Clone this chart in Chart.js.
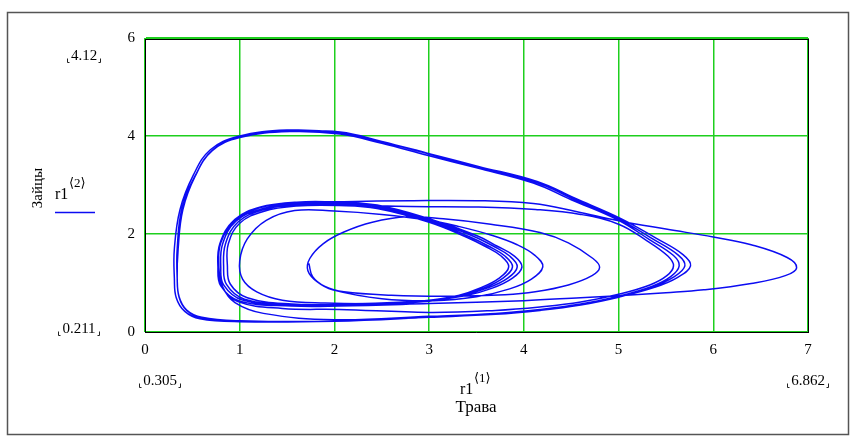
<!DOCTYPE html>
<html>
<head>
<meta charset="utf-8">
<script src="https://cdn.jsdelivr.net/npm/chart.js@4.4.1/dist/chart.umd.min.js"></script>
<style>
html,body{margin:0;padding:0;background:#fff;}
#wrap{position:relative;width:854px;height:437px;}
canvas{display:block;}
</style>
</head>
<body>
<div id="wrap"><canvas id="c" width="854" height="437"></canvas></div>
<script>
// ---- tick values ----
const xTicks = [0, 1, 2, 3, 4, 5, 6, 7];
const yTicks = [0, 2, 4, 6];

// ---- trajectory r1<1> (Трава) vs r1<2> (Зайцы), read loop by loop ----
const loopD_x = [1.73, 1.77, 1.90, 2.10, 2.60, 3.20, 3.80, 4.12, 4.47, 4.72, 4.80, 4.73, 4.47, 4.17, 3.65, 3.15, 2.77, 2.40, 2.10, 1.88, 1.74, 1.72, 1.82, 1.98];
const loopD_y = [1.40, 1.13, 0.93, 0.82, 0.75, 0.73, 0.76, 0.82, 0.96, 1.15, 1.32, 1.50, 1.82, 2.03, 2.20, 2.31, 2.35, 2.24, 2.04, 1.80, 1.50, 1.25, 1.02, 0.86];

const loopC_x = [2.50, 3.05, 3.50, 3.85, 4.08, 4.20, 4.12, 3.93, 3.65, 3.30, 3.00, 2.50, 2.00, 1.58, 1.28, 1.08, 1.00, 1.03, 1.18, 1.45, 1.90];
const loopC_y = [0.68, 0.64, 0.72, 0.88, 1.08, 1.33, 1.56, 1.78, 1.98, 2.16, 2.28, 2.40, 2.47, 2.48, 2.28, 1.90, 1.45, 1.08, 0.82, 0.65, 0.59];

const loopB1_x = [2.50, 3.00, 3.30, 3.54, 3.74, 3.84, 3.76, 3.59, 3.39, 3.00, 2.45, 2.05, 1.60, 1.25, 1.00, 0.88, 0.87, 0.90, 1.08, 1.55, 2.05];
const loopB1_y = [0.58, 0.63, 0.74, 0.90, 1.10, 1.33, 1.55, 1.75, 1.94, 2.24, 2.52, 2.58, 2.57, 2.46, 2.22, 1.80, 1.35, 0.98, 0.70, 0.57, 0.57];

const loopB2_x = [2.95, 3.32, 3.58, 3.78, 3.88, 3.80, 3.63, 3.42, 3.00, 2.45, 2.05, 1.60, 1.24, 0.98, 0.85, 0.83, 0.86, 1.05, 1.55, 2.05];
const loopB2_y = [0.64, 0.75, 0.90, 1.10, 1.33, 1.55, 1.75, 1.95, 2.27, 2.55, 2.60, 2.60, 2.49, 2.24, 1.80, 1.34, 0.97, 0.67, 0.56, 0.56];

const loopB3_x = [2.95, 3.35, 3.62, 3.83, 3.93, 3.85, 3.68, 3.46, 3.00, 2.45, 2.05, 1.60, 1.23, 0.96, 0.82, 0.80, 0.83, 1.03, 1.55, 2.05];
const loopB3_y = [0.64, 0.75, 0.90, 1.10, 1.33, 1.55, 1.75, 1.96, 2.29, 2.57, 2.62, 2.62, 2.51, 2.26, 1.80, 1.33, 0.96, 0.65, 0.55, 0.55];

const loopB4_x = [2.95, 3.38, 3.66, 3.88, 3.98, 3.90, 3.72, 3.50, 3.00, 2.45, 2.05, 1.60, 1.22, 0.94, 0.79, 0.77, 0.80, 1.00, 1.55, 2.05];
const loopB4_y = [0.63, 0.74, 0.89, 1.10, 1.33, 1.55, 1.75, 1.97, 2.31, 2.59, 2.65, 2.65, 2.54, 2.28, 1.80, 1.32, 0.94, 0.63, 0.53, 0.53];

const loopE_x = [3.00, 4.00, 4.60, 5.00, 5.50, 5.90, 6.40, 6.76, 6.88, 6.78, 6.40, 6.00, 5.50, 5.00, 4.55, 4.10, 3.50, 2.80, 2.10, 1.60, 1.22, 0.95, 0.80, 0.78, 0.81, 0.98, 1.45, 2.05];
const loopE_y = [0.58, 0.64, 0.70, 0.74, 0.80, 0.86, 0.99, 1.15, 1.31, 1.52, 1.78, 1.94, 2.10, 2.27, 2.46, 2.62, 2.68, 2.68, 2.66, 2.64, 2.55, 2.30, 1.85, 1.33, 0.93, 0.62, 0.48, 0.46];

const loopF_x = [3.00, 3.70, 4.17, 4.60, 5.00, 5.33, 5.51, 5.58, 5.52, 5.30, 5.00, 4.60, 4.12, 3.50, 2.80, 2.10, 1.60, 1.22, 0.95, 0.80, 0.78, 0.82, 0.95, 1.25];
const loopF_y = [0.40, 0.44, 0.51, 0.61, 0.77, 0.96, 1.15, 1.35, 1.55, 1.86, 2.20, 2.40, 2.50, 2.55, 2.56, 2.59, 2.59, 2.50, 2.27, 1.82, 1.32, 0.92, 0.60, 0.38];

const loopA1_x = [2.00, 3.00, 3.70, 4.17, 4.60, 5.00, 5.35, 5.55, 5.64, 5.58, 5.33, 4.99, 4.50, 4.10, 3.50, 2.99, 2.50, 2.06, 1.53, 1.00, 0.71, 0.53, 0.40, 0.35, 0.34, 0.36, 0.44, 0.60, 1.00];
const loopA1_y = [0.25, 0.32, 0.38, 0.46, 0.57, 0.73, 0.93, 1.13, 1.35, 1.56, 1.88, 2.29, 2.70, 3.04, 3.35, 3.60, 3.85, 4.04, 4.09, 3.97, 3.70, 3.18, 2.50, 1.70, 1.10, 0.72, 0.45, 0.30, 0.23];

const loopA2_x = [2.00, 3.00, 3.70, 4.17, 4.60, 5.00, 5.36, 5.58, 5.70, 5.63, 5.36, 5.00, 4.52, 4.12, 3.50, 3.00, 2.50, 2.06, 1.50, 0.98, 0.69, 0.51, 0.37, 0.31, 0.31, 0.33, 0.42, 0.58, 1.00];
const loopA2_y = [0.22, 0.30, 0.37, 0.45, 0.56, 0.72, 0.92, 1.12, 1.35, 1.57, 1.90, 2.31, 2.72, 3.06, 3.37, 3.63, 3.88, 4.07, 4.12, 3.99, 3.72, 3.20, 2.50, 1.70, 1.10, 0.70, 0.42, 0.27, 0.21];

const loopA3_x = [2.00, 3.00, 3.70, 4.17, 4.60, 5.00, 5.38, 5.62, 5.76, 5.68, 5.40, 5.02, 4.54, 4.14, 3.52, 3.00, 2.50, 2.06, 1.52, 1.00, 0.71, 0.53, 0.39, 0.34, 0.34, 0.36, 0.44, 0.60, 1.00, 2.00];
const loopA3_y = [0.22, 0.30, 0.36, 0.44, 0.55, 0.71, 0.91, 1.11, 1.35, 1.58, 1.91, 2.32, 2.73, 3.07, 3.38, 3.64, 3.89, 4.08, 4.10, 3.98, 3.71, 3.19, 2.52, 1.70, 1.10, 0.71, 0.44, 0.29, 0.22, 0.22];

const loops = [
  [loopD_x, loopD_y], [loopC_x, loopC_y],
  [loopB1_x, loopB1_y], [loopB2_x, loopB2_y], [loopB3_x, loopB3_y], [loopB4_x, loopB4_y],
  [loopE_x, loopE_y], [loopF_x, loopF_y],
  [loopA1_x, loopA1_y], [loopA2_x, loopA2_y], [loopA3_x, loopA3_y]
];
const trajectory = [];
loops.forEach(([xs, ys]) => xs.forEach((x, i) => trajectory.push({ x: x, y: ys[i] })));

const SERIF = '"Liberation Serif", "Times New Roman", "DejaVu Serif", serif';
const BLUE = '#0c0cf2';
const GREEN = '#1ecf1e';

function mcLabel(ctx, text, cx, cy) {
  ctx.font = '15px ' + SERIF;
  ctx.textAlign = 'center';
  ctx.textBaseline = 'middle';
  ctx.fillStyle = '#000';
  ctx.fillText(text, cx, cy);
  const w = ctx.measureText(text).width;
  const l = Math.round(cx - w / 2 - 4) + 0.5;
  const r = Math.round(cx + w / 2 + 3) + 0.5;
  const b = Math.round(cy + 6) + 0.5;
  ctx.strokeStyle = '#222';
  ctx.lineWidth = 1;
  ctx.beginPath();
  ctx.moveTo(l, b - 4); ctx.lineTo(l, b); ctx.lineTo(l + 2, b);
  ctx.moveTo(r, b - 4); ctx.lineTo(r, b); ctx.lineTo(r - 2, b);
  ctx.stroke();
}

const decor = {
  id: 'decor',
  afterDraw(chart) {
    const ctx = chart.ctx;
    const a = chart.chartArea;
    ctx.save();
    // plot frame (right and top), top grid line green above black
    ctx.strokeStyle = '#000';
    ctx.lineWidth = 1;
    ctx.beginPath();
    ctx.moveTo(a.right + 0.5, a.top); ctx.lineTo(a.right + 0.5, a.bottom + 1);
    ctx.moveTo(a.left, a.top + 1.5); ctx.lineTo(a.right + 1, a.top + 1.5);
    ctx.stroke();
    ctx.strokeStyle = GREEN;
    ctx.beginPath();
    ctx.moveTo(a.left, a.top + 0.5); ctx.lineTo(a.right + 1, a.top + 0.5);
    ctx.stroke();
    // outer frame
    ctx.strokeStyle = '#555';
    ctx.lineWidth = 1.5;
    ctx.strokeRect(7.5, 12.5, 841, 422);

    // Mathcad range labels
    mcLabel(ctx, '4.12', 84, 56);
    mcLabel(ctx, '0.211', 79, 329);
    mcLabel(ctx, '0.305', 160, 381);
    mcLabel(ctx, '6.862', 808, 381);

    ctx.fillStyle = '#000';
    ctx.textBaseline = 'alphabetic';
    ctx.textAlign = 'left';
    // x-axis expression
    ctx.font = '16px ' + SERIF;
    ctx.fillText('r1', 460, 394);
    ctx.font = '13px ' + SERIF;
    ctx.fillText('\u27E81\u27E9', 474, 382);
    ctx.font = '17px ' + SERIF;
    ctx.textAlign = 'center';
    ctx.textBaseline = 'middle';
    ctx.fillText('Трава', 476, 408);
    // y-axis expression
    ctx.textAlign = 'left';
    ctx.textBaseline = 'alphabetic';
    ctx.font = '16px ' + SERIF;
    ctx.fillText('r1', 55, 199);
    ctx.font = '13px ' + SERIF;
    ctx.fillText('\u27E82\u27E9', 69, 187);
    // legend line
    ctx.strokeStyle = BLUE;
    ctx.lineWidth = 1.5;
    ctx.beginPath();
    ctx.moveTo(55, 212.5); ctx.lineTo(95, 212.5);
    ctx.stroke();
    // rotated title
    ctx.translate(38, 188);
    ctx.rotate(-Math.PI / 2);
    ctx.font = '15px ' + SERIF;
    ctx.textAlign = 'center';
    ctx.textBaseline = 'middle';
    ctx.fillStyle = '#000';
    ctx.fillText('Зайцы', 0, 0);
    ctx.restore();
  }
};

new Chart(document.getElementById('c'), {
  type: 'scatter',
  data: {
    datasets: [{
      label: 'r1<2>',
      data: trajectory,
      showLine: true,
      borderColor: BLUE,
      borderWidth: 1.5,
      pointRadius: 0,
      tension: 0.4,
      fill: false
    }]
  },
  options: {
    responsive: false,
    animation: false,
    devicePixelRatio: 1,
    layout: { padding: { left: 0, right: 46, top: 38, bottom: 0 } },
    plugins: { legend: { display: false }, tooltip: { enabled: false } },
    scales: {
      x: {
        type: 'linear', min: 0, max: 7,
        afterBuildTicks: s => { s.ticks = xTicks.map(v => ({ value: v })); },
        afterFit: s => { s.height = 105; },
        ticks: { color: '#000', font: { family: SERIF, size: 15 }, padding: 9, maxRotation: 0 },
        grid: { color: GREEN, lineWidth: 1.5, drawTicks: false },
        border: { display: true, color: '#000', width: 1 }
      },
      y: {
        type: 'linear', min: 0, max: 6,
        afterBuildTicks: s => { s.ticks = yTicks.map(v => ({ value: v })); },
        afterFit: s => { s.width = 145; },
        ticks: { color: '#000', font: { family: SERIF, size: 15 }, padding: 10 },
        grid: { color: GREEN, lineWidth: 1.5, drawTicks: false },
        border: { display: true, color: '#000', width: 1 }
      }
    }
  },
  plugins: [decor]
});
</script>
</body>
</html>
